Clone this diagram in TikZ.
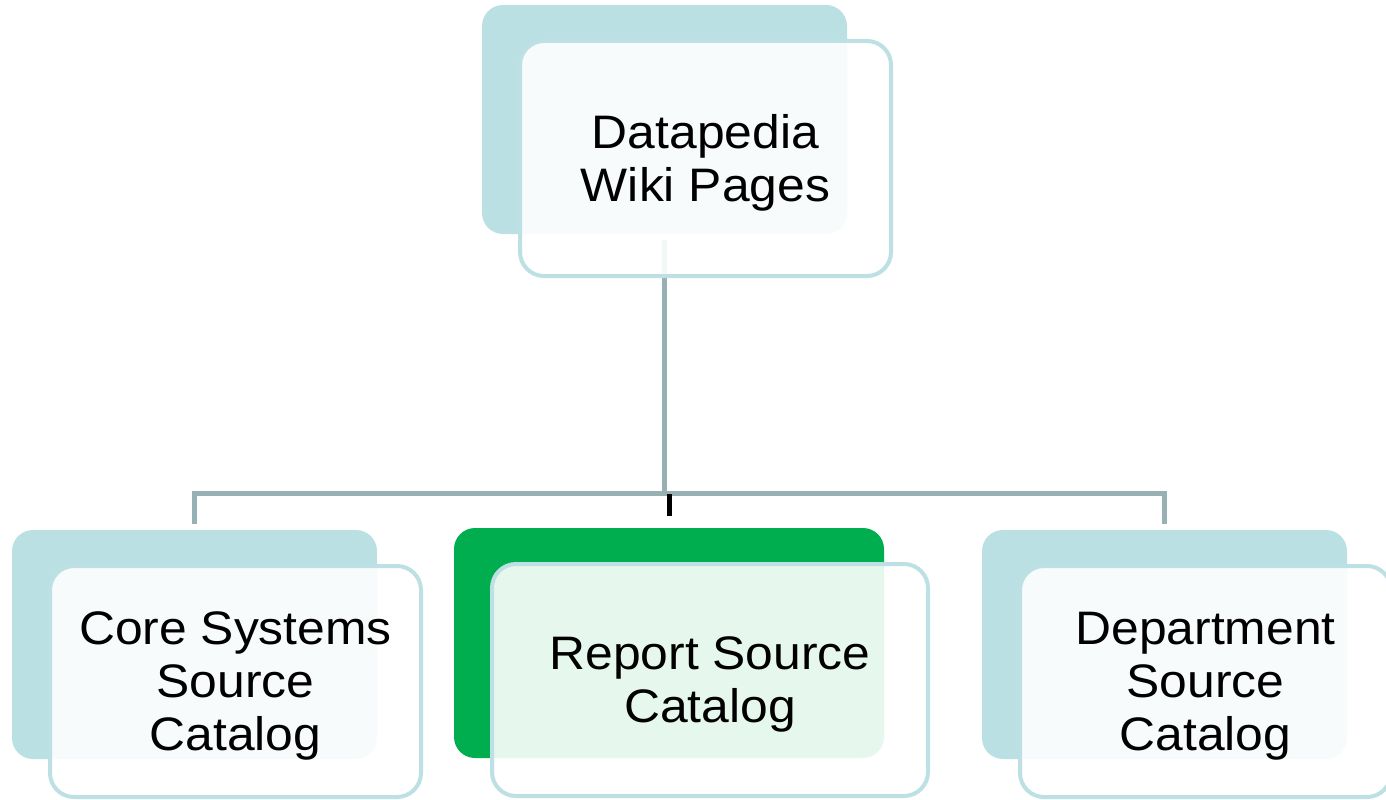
\documentclass[tikz,border=0pt]{standalone}
\usepackage{fontspec}
\setmainfont{Liberation Sans}[FakeStretch=1.06]
\usetikzlibrary{calc}
\definecolor{backteal}{HTML}{BAE0E3}
\definecolor{backgreen}{HTML}{00AE4F}
\definecolor{frontline}{HTML}{BCE0E3}
\definecolor{connline}{HTML}{96B0B4}
\tikzset{
  backbox/.style={rectangle, rounded corners=21pt, draw=none, fill=backteal,
    minimum width=365pt, minimum height=229pt, inner sep=0pt},
  frontbox/.style={rectangle, rounded corners=24pt, draw=frontline, line width=4pt,
    fill=white, fill opacity=0.9, draw opacity=1, text opacity=1,
    minimum width=371pt, minimum height=233pt, inner sep=0pt, align=center,
    text depth=1pt, font=\fontsize{47}{53}\selectfont},
  connector/.style={draw=connline, line width=5pt},
}
\begin{document}
\begin{tikzpicture}[x=1pt,y=-1pt]
\useasboundingbox (0,0) rectangle (1386,800);
% back boxes
\node[backbox] (topback) at (664.5,119.5) {};
\node[backbox] (leftback) at (194.5,644.5) {};
\node[backbox, fill=backgreen, minimum width=430pt, minimum height=230pt] (midback) at (669,643) {};
\node[backbox] (rightback) at (1164.5,644.5) {};
% connectors
\coordinate (bus) at (664.5,493);
\draw[connector] ($(topback.south)+(0,6)$) -- (topback.south |- bus);
\draw[connector] ($(leftback.north)+(0,-6)$) |- (bus) -| ($(rightback.north)+(0,-6)$);
\draw[black, line width=5pt] ($(midback.north |- bus)+(0,1)$) -- ($(midback.north)+(0,-12)$);
% front boxes
\node[frontbox, minimum height=235pt] (top) at (705.5,158.5) {Datapedia\\Wiki Pages};
\node[frontbox, minimum height=231pt] (left) at (235.5,681.5) {Core Systems\\Source\\Catalog};
\node[frontbox, minimum width=436pt, minimum height=232pt] (mid) at (710,680) {Report Source\\Catalog};
\node[frontbox, minimum height=231pt] (right) at (1205.5,681.5) {Department\\Source\\Catalog};
\end{tikzpicture}
\end{document}
